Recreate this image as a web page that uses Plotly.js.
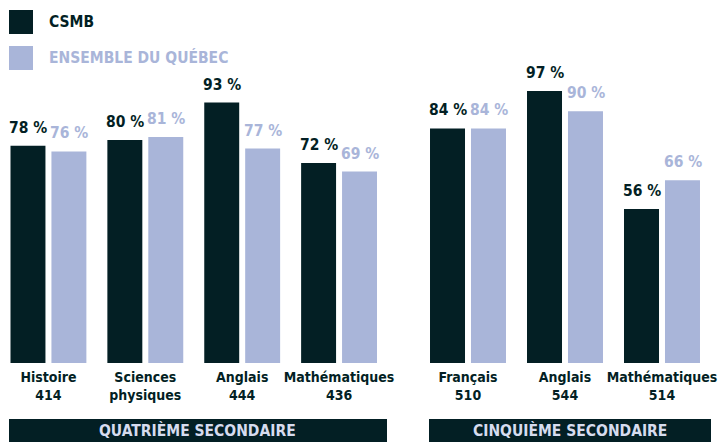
<!DOCTYPE html>
<html>
<head>
<meta charset="utf-8">
<script src="https://cdn.plot.ly/plotly-3.0.1.min.js"></script>
<style>html,body{margin:0;padding:0;background:#fff;}#chart{width:726px;height:442px;}</style>
</head>
<body>
<div id="chart"></div>
<script>
// Data
const categoriesQuatrieme = ['Histoire<br>414', 'Sciences<br>physiques', 'Anglais<br>444', 'Mathématiques<br>436'];
const csmbQuatrieme = [78, 80, 93, 72];
const quebecQuatrieme = [76, 81, 77, 69];

const categoriesCinquieme = ['Français<br>510', 'Anglais<br>544', 'Mathématiques<br>514'];
const csmbCinquieme = [84, 97, 56];
const quebecCinquieme = [84, 90, 66];

const seriesNames = ['CSMB', 'ENSEMBLE DU QUÉBEC'];
const groupTitles = ['QUATRIÈME SECONDAIRE', 'CINQUIÈME SECONDAIRE'];

const DARK = '#031f24';
const LIGHT = '#a9b5d9';
const BANNER_TEXT = '#d6dcef';
const FONT = '"DejaVu Sans Condensed", "Liberation Sans Narrow", sans-serif';

function barTrace(x, y, color, xa, ya) {
  return {
    type: 'bar', x: x, y: y, xaxis: xa, yaxis: ya,
    marker: {color: color, line: {width: 0}},
    hoverinfo: 'skip',
    showlegend: false
  };
}

const data = [
  barTrace(categoriesQuatrieme, csmbQuatrieme, DARK, 'x', 'y'),
  barTrace(categoriesQuatrieme, quebecQuatrieme, LIGHT, 'x', 'y'),
  barTrace(categoriesCinquieme, csmbCinquieme, DARK, 'x2', 'y2'),
  barTrace(categoriesCinquieme, quebecCinquieme, LIGHT, 'x2', 'y2')
];

// value labels, placed by the axes at each bar's value
function valueLabels(cats, vals, color, xa, ya, shift) {
  return vals.map((v, i) => ({
    xref: xa, yref: ya, x: cats[i], y: v,
    xanchor: 'center', yanchor: 'bottom', xshift: shift, yshift: 7,
    showarrow: false, text: v + ' %',
    font: {family: FONT, size: 15.5, color: color, weight: 'bold'}
  }));
}

const W = 726, PH = 363;
const yRange = [2.5, 2.5 + PH / 2.878];
const tickfont = {family: FONT, size: 14, color: DARK, weight: 'bold'};

function py(px) { return (PH - px) / PH; }

const annotations = [].concat(
  valueLabels(categoriesQuatrieme, csmbQuatrieme, DARK, 'x', 'y', -20.5),
  valueLabels(categoriesQuatrieme, quebecQuatrieme, LIGHT, 'x', 'y', 20.5),
  valueLabels(categoriesCinquieme, csmbCinquieme, DARK, 'x2', 'y2', -20.5),
  valueLabels(categoriesCinquieme, quebecCinquieme, LIGHT, 'x2', 'y2', 20.5),
  [
    {xref: 'paper', yref: 'paper', x: 47 / W, y: py(22), xanchor: 'left', yanchor: 'middle', showarrow: false, text: seriesNames[0], font: {family: FONT, size: 15.5, color: DARK, weight: 'bold'}},
    {xref: 'paper', yref: 'paper', x: 47 / W, y: py(58), xanchor: 'left', yanchor: 'middle', showarrow: false, text: seriesNames[1], font: {family: FONT, size: 15.5, color: LIGHT, weight: 'bold'}},
    {xref: 'paper', yref: 'paper', x: 198 / W, y: py(430), xanchor: 'center', yanchor: 'middle', showarrow: false, text: groupTitles[0], font: {family: FONT, size: 15.5, color: BANNER_TEXT, weight: 'bold'}},
    {xref: 'paper', yref: 'paper', x: 570 / W, y: py(430), xanchor: 'center', yanchor: 'middle', showarrow: false, text: groupTitles[1], font: {family: FONT, size: 15.5, color: BANNER_TEXT, weight: 'bold'}}
  ]
);

const layout = {
  width: 726, height: 442,
  margin: {l: 0, r: 0, t: 0, b: 442 - PH},
  paper_bgcolor: '#ffffff', plot_bgcolor: '#ffffff',
  barmode: 'group', bargap: 0.155, bargroupgap: 0.146,
  font: {family: FONT},
  xaxis: {domain: [0, 387.5 / W], type: 'category', showgrid: false, zeroline: false, showline: false, ticks: '', tickfont: tickfont, fixedrange: true, ticklabelstandoff: 4},
  xaxis2: {domain: [419.5 / W, 710.5 / W], type: 'category', anchor: 'y2', showgrid: false, zeroline: false, showline: false, ticks: '', tickfont: tickfont, fixedrange: true, ticklabelstandoff: 4},
  yaxis: {range: yRange, visible: false, fixedrange: true},
  yaxis2: {range: yRange, visible: false, fixedrange: true, anchor: 'x2', overlaying: 'y'},
  shapes: [
    {type: 'rect', xref: 'paper', yref: 'paper', x0: 9 / W, x1: 33 / W, y0: py(34), y1: py(10), fillcolor: DARK, line: {width: 0}},
    {type: 'rect', xref: 'paper', yref: 'paper', x0: 9 / W, x1: 33 / W, y0: py(70), y1: py(46), fillcolor: LIGHT, line: {width: 0}},
    {type: 'rect', xref: 'paper', yref: 'paper', x0: 9 / W, x1: 387 / W, y0: py(442), y1: py(419), fillcolor: DARK, line: {width: 0}},
    {type: 'rect', xref: 'paper', yref: 'paper', x0: 429 / W, x1: 711 / W, y0: py(442), y1: py(419), fillcolor: DARK, line: {width: 0}}
  ],
  annotations: annotations
};

Plotly.newPlot('chart', data, layout, {displayModeBar: false, staticPlot: true});
</script>
</body>
</html>
